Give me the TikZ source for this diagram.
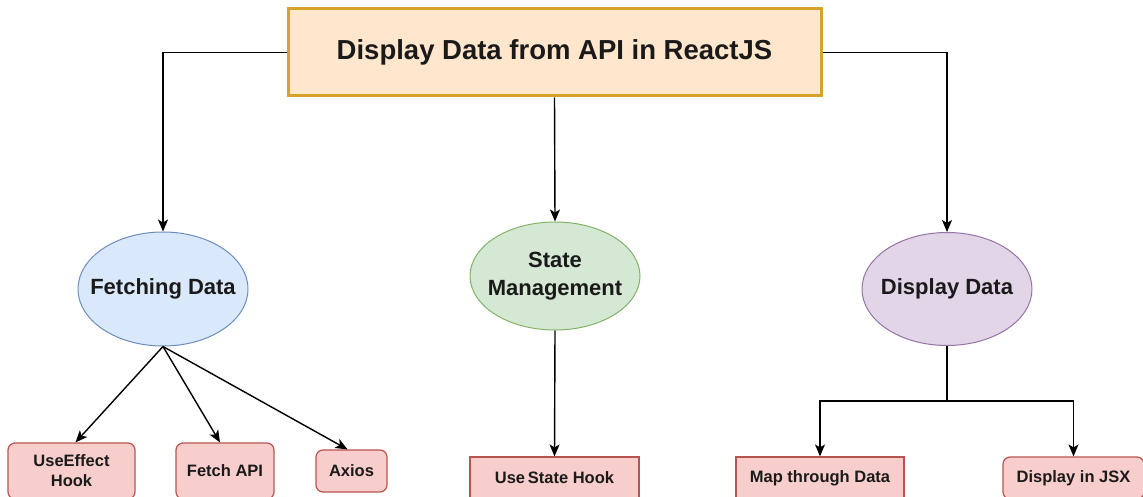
\documentclass[tikz,border=0pt]{standalone}
\usepackage{fontspec}
\setmainfont{Liberation Sans}
\usetikzlibrary{arrows.meta,shapes.geometric,calc}

\definecolor{titlefill}{HTML}{FFE6CC}
\definecolor{titleline}{HTML}{D6A32A}
\definecolor{bluefill}{HTML}{DAE8FC}
\definecolor{blueline}{HTML}{6C8EBF}
\definecolor{greenfill}{HTML}{D5E8D4}
\definecolor{greenline}{HTML}{82B366}
\definecolor{purplefill}{HTML}{E1D5E7}
\definecolor{purpleline}{HTML}{9673A6}
\definecolor{redfill}{HTML}{F8CECC}
\definecolor{redline}{HTML}{B85450}
\definecolor{ink}{HTML}{1A1A1A}

\tikzset{
  titlebox/.style={draw=titleline, fill=titlefill, line width=3pt, inner sep=0pt,
    minimum width=533pt, minimum height=87pt, text=ink,
    font=\bfseries\fontsize{27.5}{32}\selectfont},
  topic/.style={ellipse, line width=1pt, inner sep=0pt, minimum width=170pt},
  topictext/.style={inner sep=0pt, text=ink, align=center,
    font=\bfseries\fontsize{22}{28}\selectfont},
  leaf/.style={draw=redline, fill=redfill, line width=1.2pt, inner sep=0pt,
    text=ink, align=center, font=\bfseries\fontsize{16.5}{20}\selectfont},
  roundleaf/.style={leaf, rounded corners=7pt},
  link/.style={draw=black, line width=1.4pt,
    -{Stealth[length=12pt,width=10pt,inset=3pt]}}
}

\begin{document}
\begin{tikzpicture}[x=1pt, y=-1pt]
  \clip (0,0) rectangle (1143,497);
  \fill[white] (0,0) rectangle (1143,497);

  % root
  \node[titlebox] (root) at (554.5,52.5) {Display Data from API in ReactJS};

  % three topics: the ellipse keeps its own size, the words sit on top
  \node[topic, draw=blueline, fill=bluefill, minimum height=114pt,
    label={[topictext]center:Fetching Data}] (fetch) at (163,289) {};
  \node[topic, draw=greenline, fill=greenfill, minimum height=108pt,
    label={[topictext]center:State\\Management}] (state) at (555,276) {};
  \node[topic, draw=purpleline, fill=purplefill, minimum height=113pt,
    label={[topictext]center:Display Data}] (show) at (947,289) {};

  % leaves
  \node[roundleaf, minimum width=127pt, minimum height=56pt]
    (effect) at (71.5,471) {UseEffect\\Hook};
  \node[roundleaf, minimum width=98pt, minimum height=56pt]
    (fetchapi) at (225,471) {Fetch API};
  \node[roundleaf, minimum width=71pt, minimum height=42pt]
    (axios) at (351.5,471) {Axios};
  \node[leaf, minimum width=169pt, minimum height=42pt]
    (usestate) at (554.5,478) {Use\,State Hook};
  \node[leaf, minimum width=168pt, minimum height=42pt]
    (mapdata) at (820,478) {Map through Data};
  \node[roundleaf, minimum width=141pt, minimum height=42pt]
    (jsx) at (1073.5,478) {Display in JSX};

  % root to topics
  \draw[link] (root.west) -| (fetch.north);
  \draw[link] (root.south) -- (state.north);
  \draw[link] (root.east) -| (show.north);

  % fetching branches
  \draw[link] (fetch.south) -- ([xshift=4pt]effect.north);
  \draw[link] (fetch.south) -- ([xshift=-5pt]fetchapi.north);
  \draw[link] (fetch.south) -- ([xshift=-4pt]axios.north);

  % state branch
  \draw[link] (state.south) -- (usestate.north);

  % display branches through a common split
  \coordinate (split) at ($(show.south)+(0,55)$);
  \draw[line width=1.4pt] (show.south) -- (split);
  \draw[link] (split) -| (mapdata.north);
  \draw[link] (split) -| (jsx.north);
\end{tikzpicture}
\end{document}
